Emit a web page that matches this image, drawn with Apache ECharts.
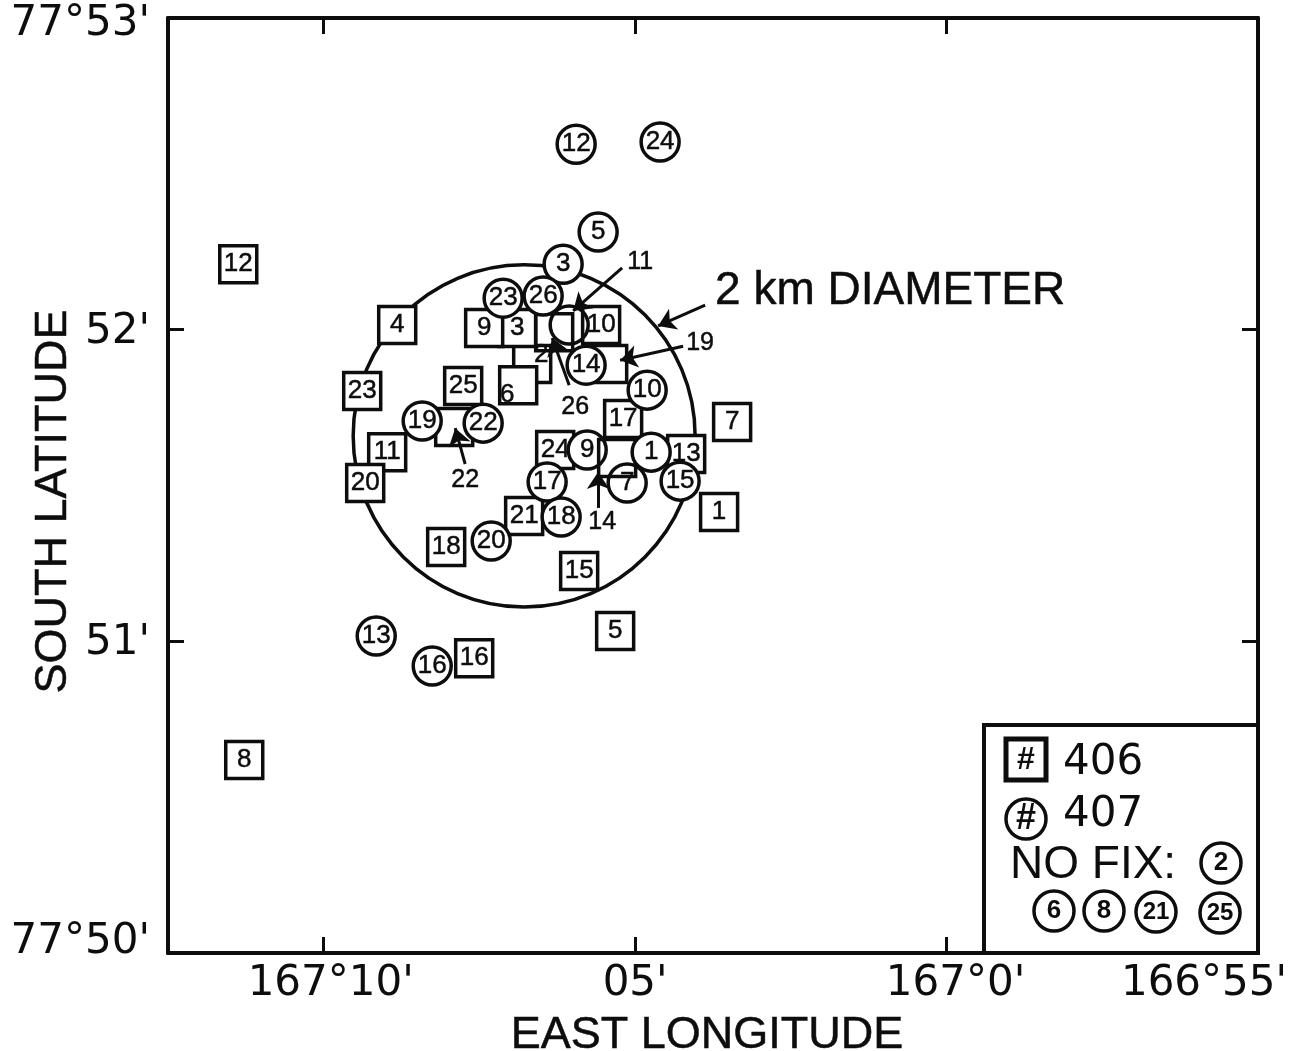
<!DOCTYPE html>
<html><head><meta charset="utf-8">
<style>html,body{margin:0;padding:0;background:#fff}#c{width:1308px;height:1051px}</style>
<script src="https://cdn.jsdelivr.net/npm/echarts@6/dist/echarts.min.js"></script>
</head><body><div id="c"></div>
<script>
// x = minutes of longitude east of 166°55'; y = minutes of latitude south of 77°50'
const xTicks = {0:"166°55'", 5:"167°0'", 10:"05'", 15:"167°10'"};
const yTicks = {0:"77°50'", 1:"51'", 2:"52'", 3:"77°53'"};

// ship 406 (squares): [x, y, number]
const ship406 = [
 [8.652,1.415,1],[11.653,1.890,2],[11.894,2.005,3],[13.820,2.015,4],[10.321,1.033,5],[11.878,1.822,6],
 [8.443,1.704,7],[16.276,0.619,8],[12.424,2.005,9],[13.981,1.607,11],[16.372,2.210,12],
 [9.181,1.601,13],[10.899,1.226,15],[12.584,0.946,16],[10.193,1.713,17],[13.034,1.303,18],
 [10.433,1.890,19],[14.334,1.508,20],[11.782,1.402,21],[12.905,1.688,22],[14.382,1.803,23],
 [11.284,1.614,24],[12.761,1.819,25]
];
const ship406Over = [[10.546,2.015,10],[10.289,1.588,14],[11.300,1.992,26]];
// ship 407 (circles)
const ship407Under = [[10.128,1.508,7],[10.770,1.614,9],[11.059,2.015,11]];
const ship407 = [
 [9.743,1.607,1],[11.156,2.210,3],[10.594,2.313,5],[9.807,1.806,10],[10.947,2.595,12],
 [14.157,1.017,13],[10.787,1.886,14],[9.278,1.514,15],[13.258,0.921,16],[11.413,1.511,17],
 [11.188,1.399,18],[13.419,1.707,19],[12.311,1.322,20],[12.440,1.700,22],[12.119,2.101,23],
 [9.599,2.602,24],[11.477,2.108,26]
];
const diameterCircle = [[11.782,1.659,2.745,0.549]];
// annotation label: [x, y, text]
const pointerLabels = [[9.920,2.217,'11'],[8.957,1.957,'19'],[10.963,1.752,'26'],[12.729,1.517,'22'],[10.530,1.383,'14']];
const diameterLabel = [[8.716,2.124,'2 km DIAMETER']];
// arrows: [fromX, fromY, toX, toY]
const arrows = [
 [8.876,2.079,9.631,2.012],[10.209,2.198,10.995,2.060],[9.230,1.947,10.241,1.902],
 [11.059,1.822,11.332,1.973],[12.729,1.569,12.889,1.684],[10.594,1.428,10.594,1.543]
];
const noFix = [2,6,8,21,25];

const INK = '#0d0d0d', FONT = '"Liberation Sans", Arial, sans-serif', WIDE = '"DejaVu Sans", sans-serif';
const HEAVY = {textBorderColor:INK, textBorderWidth:0.5};
const chart = echarts.init(document.getElementById('c'), null, {renderer:'canvas'});

function labelShift(n, isSquare){
  if(!isSquare) return [0,0];
  if(n===2) return [9,-9];
  if(n===6) return [-11,10];
  return [0,0];
}
function markers(rows, symbol, size, fill, z, unlabeled){
  return {
    type:'scatter', symbol, symbolSize:size, z, animation:false, silent:true,
    itemStyle:{color:fill, borderColor:INK, borderWidth:3.5, opacity:1},
    data: rows.map(r=>{
      const show = !(unlabeled && unlabeled.includes(r[2]));
      return {value:[r[0],r[1]],
        label:{show, formatter:String(r[2]), position:'inside', offset:labelShift(r[2],symbol==='rect'),
               color:INK, fontSize:26, fontFamily:FONT, ...HEAVY}};
    })
  };
}
const sq406Hidden = [14,19,22,26];
const circHidden = [11];
const series = [
 {type:'custom', z:1, silent:true, animation:false, clip:false,
  data:diameterCircle,
  renderItem(p,api){
    const c=api.coord([api.value(0),api.value(1)]);
    const s=api.size([api.value(2),api.value(3)]);
    return {type:'ellipse',shape:{cx:c[0],cy:c[1],rx:s[0],ry:s[1]},
            style:{fill:'none',stroke:INK,lineWidth:3.5}};
  },
  encode:{x:0,y:1}},
 markers(ship406,'rect',37,'#fff',2,sq406Hidden),
 markers(ship407Under,'circle',38,'#fff',3,circHidden),
 markers(ship406Over,'rect',37,'rgba(255,255,255,0)',4,sq406Hidden),
 markers(ship407,'circle',38,'#fff',5,null),
 {type:'scatter', z:6, symbolSize:0, silent:true, animation:false, itemStyle:{opacity:1},
  data:pointerLabels.map(r=>({value:[r[0],r[1]],label:{show:true,formatter:r[2],position:'inside',color:INK,fontSize:25,fontFamily:FONT,...HEAVY}})),
  markLine:{silent:true,animation:false,symbol:['none','arrow'],symbolSize:17,precision:3,
    lineStyle:{color:INK,width:3,type:'solid',opacity:1},label:{show:false},
    data:arrows.map(a=>[{coord:[a[0],a[1]]},{coord:[a[2],a[3]]}])}},
 {type:'scatter', z:6, symbolSize:0, silent:true, animation:false, itemStyle:{opacity:1},
  data:diameterLabel.map(r=>({value:[r[0],r[1]],label:{show:true,formatter:r[2],position:'right',distance:0,color:INK,fontSize:46,fontFamily:FONT,...HEAVY}}))}
];

// legend box
const LX=984, LY=725;
function legText(x,y,t,size,align,weight,fam){
  return {type:'text',z:101,style:{x,y,text:t,fill:INK,fontSize:size,fontFamily:fam||FONT,fontWeight:weight||'normal',
          align:align||'left',verticalAlign:'middle'}};
}
function legCircle(cx,cy,r,t,size){
  return [{type:'circle',z:101,shape:{cx,cy,r},style:{fill:'#fff',stroke:INK,lineWidth:3.5}},
          legText(cx,cy,t,size,'center','bold')];
}
const legendCenters=[[1054,911],[1104,911],[1156,912],[1220,913]];
const graphicEls=[
 {type:'rect',z:100,shape:{x:LX,y:LY,width:1258-LX,height:953-LY},style:{fill:'#fff',stroke:INK,lineWidth:4}},
 {type:'rect',z:101,shape:{x:1006,y:739,width:40,height:41},style:{fill:'#fff',stroke:INK,lineWidth:5}},
 legText(1026,760,'#',32,'center','bold'),
 legText(1063,763,'406',42,'left','normal',WIDE),
 ...legCircle(1026,819,20,'#',36),
 legText(1063,815,'407',42,'left','normal',WIDE),
 legText(1010,865,'NO FIX:',46,'left','normal',FONT),
 ...legCircle(1221,863,20,String(noFix[0]),26),
 ...noFix.slice(1).flatMap((n,i)=>legCircle(legendCenters[i][0],legendCenters[i][1],20,String(n),i<2?26:24))
];

function xFmt(v){
  const t=xTicks[v]; if(t===undefined) return '';
  const key = v===0?'a':v===5?'b':v===15?'c':'d';
  return '{'+key+'|'+t+'}';
}
function yFmt(v){
  const t=yTicks[v]; if(t===undefined) return '';
  return '{'+(v===0?'b':v===3?'t':'m')+'|'+t+'}';
}
const base={color:INK,fontSize:42,fontFamily:WIDE};
const tick={show:true,inside:true,length:16,lineStyle:{color:INK,width:3}};
const axLine={show:true,onZero:false,lineStyle:{color:INK,width:4}};

chart.setOption({
 backgroundColor:'#fff', animation:false,
 grid:{left:168,right:50,top:18,bottom:98,show:false,outerBoundsMode:'none',containLabel:false},
 xAxis:[
  {type:'value',min:0,max:17.5,interval:5,inverse:true,position:'bottom',
   name:'EAST LONGITUDE',nameLocation:'middle',nameGap:60,nameMoveOverlap:false,
   nameTextStyle:{color:INK,fontSize:45,fontFamily:FONT,padding:[0,12,0,0],...HEAVY},
   axisLine:axLine,axisTick:tick,splitLine:{show:false},
   axisLabel:{margin:10,showMinLabel:true,showMaxLabel:false,hideOverlap:false,formatter:xFmt,color:INK,
     rich:{a:{...base,padding:[0,108,0,0]},b:{...base,padding:[0,0,0,18]},c:{...base,padding:[0,0,0,14]},d:{...base}}}},
  {type:'value',min:0,max:17.5,interval:5,inverse:true,position:'top',
   axisLine:axLine,axisTick:tick,axisLabel:{show:false},splitLine:{show:false}}
 ],
 yAxis:[
  {type:'value',min:0,max:3,interval:1,position:'left',
   name:'SOUTH LATITUDE',nameLocation:'middle',nameGap:92,nameRotate:90,nameMoveOverlap:false,
   nameTextStyle:{color:INK,fontSize:45,fontFamily:FONT,padding:[0,32,0,0],...HEAVY},
   axisLine:axLine,axisTick:tick,splitLine:{show:false},
   axisLabel:{margin:18,showMinLabel:true,showMaxLabel:true,hideOverlap:false,formatter:yFmt,color:INK,
     rich:{m:{...base,padding:[4,0,0,0]},t:{...base,padding:[12,0,0,0]},b:{...base,padding:[0,0,22,0]}}}},
  {type:'value',min:0,max:3,interval:1,position:'right',
   axisLine:axLine,axisTick:tick,axisLabel:{show:false},splitLine:{show:false}}
 ],
 graphic:{elements:graphicEls},
 series
});
</script></body></html>
